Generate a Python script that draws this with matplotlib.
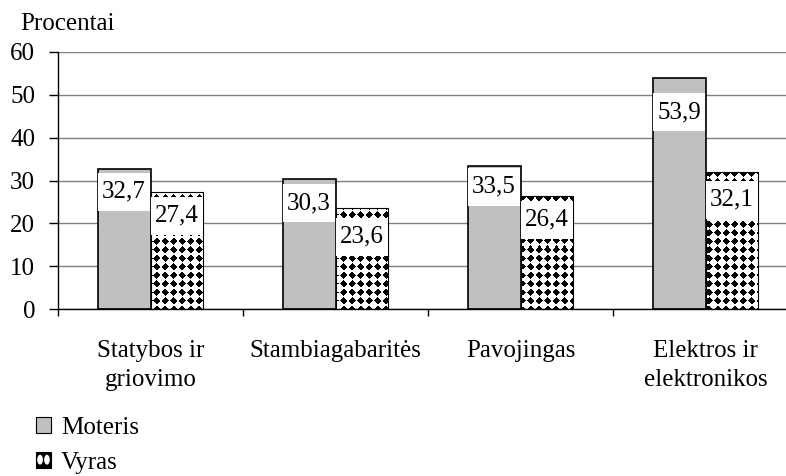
import numpy as np
import matplotlib
matplotlib.use("Agg")
import matplotlib.pyplot as plt
from matplotlib.patches import Rectangle, Ellipse, Patch
from matplotlib.path import Path
from matplotlib.legend_handler import HandlerBase

plt.rcParams['font.family'] = ['Liberation Serif', 'DejaVu Serif']

# --- data ---------------------------------------------------------------
categories = ["Statybos ir\ngriovimo", "Stambiagabaritės", "Pavojingas",
              "Elektros ir\nelektronikos"]
moteris = [32.7, 30.3, 33.5, 53.9]
vyras = [27.4, 23.6, 26.4, 32.1]
series_names = ["Moteris", "Vyras"]
y_ticks = [0, 10, 20, 30, 40, 50, 60]
y_label = "Procentai"

# --- style ----------------------------------------------------------------
FS = 18
GRAY = "#c0c0c0"
BAR_W = 0.286
# distance (px) from bar top down to the centre of each value label
lab_off_m = [23, 24, 21, 34]
lab_off_v = [24, 29, 24, 28]

W_PX, H_PX, DPI = 786, 476, 100
fig = plt.figure(figsize=(W_PX / DPI, H_PX / DPI), dpi=DPI)

ax_left, ax_right = 58, 798          # pixel columns of x = -0.5 and x = 3.5
ax_top, ax_bottom = 52, 309          # pixel rows of y = 60 and y = 0
ax = fig.add_axes([ax_left / W_PX, 1 - ax_bottom / H_PX,
                   (ax_right - ax_left) / W_PX, (ax_bottom - ax_top) / H_PX])

x = np.arange(len(categories))
xlim = (-0.5, len(categories) - 0.5)
ylim = (0, 60)

bars_m = ax.bar(x - BAR_W / 2, moteris, width=BAR_W, facecolor=GRAY,
                edgecolor="black", linewidth=1.2, zorder=2)
bars_v = ax.bar(x + BAR_W / 2, vyras, width=BAR_W, facecolor="white",
                edgecolor="none", linewidth=0, zorder=2)

# diamond texture for the second series, laid out in screen pixels
tw, th = ax_right - ax_left, ax_bottom - ax_top
yy, xx = np.mgrid[0:th, 0:tw] + 0.5
P = 8.5
u = (xx % P) / P - 0.5
v = ((yy + 2) % P) / P - 0.5
mask = (np.abs(u) + np.abs(v)) < 0.47
tex = np.ones((th, tw, 3))
tex[mask] = 0.0
for b in bars_v:
    im = ax.imshow(tex, extent=(xlim[0], xlim[1], ylim[0], ylim[1]),
                   origin="upper", aspect="auto", interpolation="nearest",
                   zorder=2.2)
    im.set_clip_path(b)
ax.bar(x + BAR_W / 2, vyras, width=BAR_W, facecolor="none",
       edgecolor="black", linewidth=0.8, zorder=2.4)

ax.set_xlim(*xlim)
ax.set_ylim(*ylim)


# white label box, taller than wide padding
def label_box(x0, y0, width, height, mutation_size):
    px, py = 0.16 * mutation_size, 0.32 * mutation_size
    xa, xb = x0 - px, x0 + width + px
    ya, yb = y0 - py, y0 + height + py
    return Path([(xa, ya), (xb, ya), (xb, yb), (xa, yb), (xa, ya)],
                closed=True)


# value labels
px2pt = 72 / DPI
for bars, vals, offs in ((bars_m, moteris, lab_off_m), (bars_v, vyras, lab_off_v)):
    for b, val, off in zip(bars, vals, offs):
        ax.annotate(f"{val:.1f}".replace(".", ","),
                    xy=(b.get_x() + b.get_width() / 2, val),
                    xytext=(0, -off * px2pt), textcoords="offset points",
                    ha="center", va="center", fontsize=FS, zorder=3,
                    bbox=dict(boxstyle=label_box, facecolor="white",
                              edgecolor="none"))

# axes, grid and ticks
for s in ("top", "right"):
    ax.spines[s].set_visible(False)
for s in ("left", "bottom"):
    ax.spines[s].set_color("black")
    ax.spines[s].set_linewidth(1.0)
ax.set_yticks(y_ticks)
ax.yaxis.grid(True, color="#808080", linewidth=1.0)
ax.set_axisbelow(True)
ax.tick_params(axis="y", direction="out", length=6.5, width=1.0,
               labelsize=FS, pad=10)
ax.set_xticks(x)
ax.set_xticklabels(categories, fontsize=FS, linespacing=1.45)
ax.tick_params(axis="x", which="major", length=0, pad=22)
ax.set_xticks(np.arange(len(categories) + 1) - 0.5, minor=True)
ax.tick_params(axis="x", which="minor", direction="out", length=5, width=1.0)

fig.text(20 / W_PX, 1 - 24 / H_PX, y_label, fontsize=FS, ha="left",
         va="center")


# legend handle showing the diamond fill
class DiamondHandler(HandlerBase):
    def create_artists(self, legend, orig_handle, xdescent, ydescent,
                       width, height, fontsize, trans):
        x0, y0 = -xdescent, -ydescent
        sq = Rectangle((x0, y0), width, height, facecolor="black",
                       edgecolor="black", linewidth=0.8, transform=trans)
        e1 = Ellipse((x0 + width * 0.27, y0 + height / 2), width * 0.38,
                     height * 0.62, facecolor="white", edgecolor="none",
                     transform=trans)
        e2 = Ellipse((x0 + width * 0.73, y0 + height / 2), width * 0.38,
                     height * 0.62, facecolor="white", edgecolor="none",
                     transform=trans)
        return [sq, e1, e2]


h_m = Patch(facecolor=GRAY, edgecolor="black", linewidth=0.8)
h_v = Patch(facecolor="white", edgecolor="black")
fig.legend([h_m, h_v], series_names, loc="upper left",
           bbox_to_anchor=(36 / W_PX, 1 - 417 / H_PX), frameon=False,
           fontsize=FS, handlelength=0.6, handleheight=0.6,
           handletextpad=0.4, labelspacing=0.5, borderpad=0,
           borderaxespad=0, handler_map={h_v: DiamondHandler()})

fig.savefig("out.png", dpi=DPI)
